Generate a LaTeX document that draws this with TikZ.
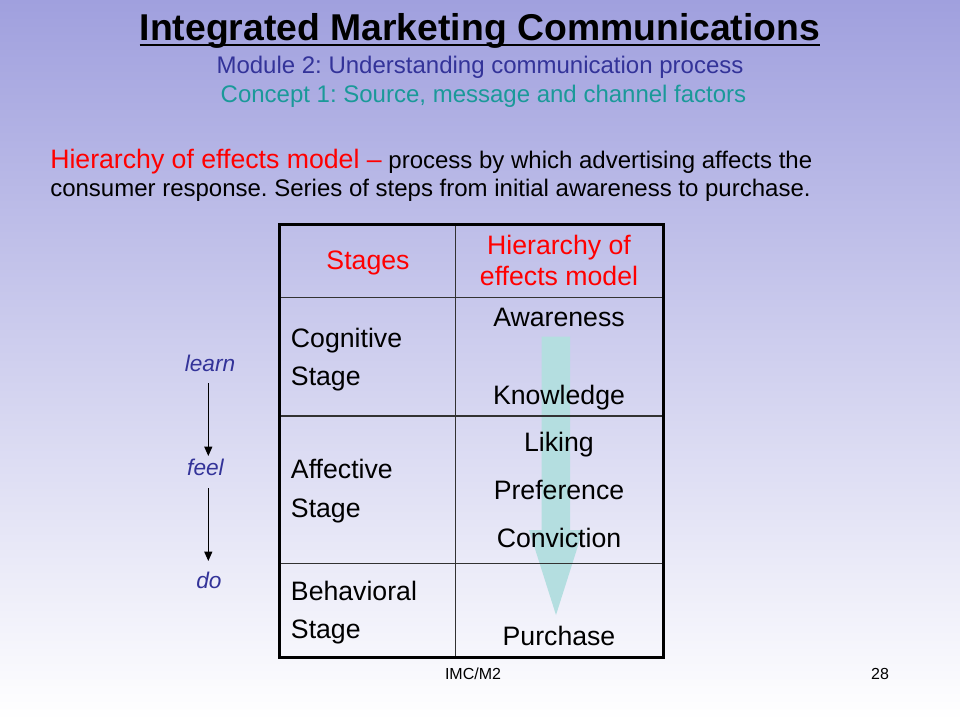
\documentclass[tikz,border=0pt]{standalone}
\usepackage{fontspec}
\setmainfont{Liberation Sans}
\usetikzlibrary{arrows.meta}
\definecolor{bgtop}{RGB}{160,160,222}
\definecolor{modblue}{RGB}{51,51,153}
\definecolor{tealtxt}{RGB}{26,153,153}
\definecolor{hred}{RGB}{255,0,0}
\definecolor{arrowcyan}{RGB}{180,222,224}
\definecolor{gridgray}{RGB}{50,50,50}
\frenchspacing
\begin{document}
\begin{tikzpicture}[x=0.75pt,y=-0.75pt,
  txt/.style={inner sep=0pt, anchor=base},
  cell/.style={txt, font=\fontsize{20}{24}\selectfont},
  lcell/.style={cell, anchor=base west},
  redcell/.style={cell, text=hred},
  flow/.style={txt, font=\fontsize{17}{20}\selectfont\itshape, text=modblue},
  smallarr/.style={-{Triangle[length=7pt,width=6pt]}, line width=0.8pt},
  foot/.style={txt, font=\fontsize{12}{14}\selectfont}]
\shade[top color=bgtop,bottom color=white] (0,0) rectangle (960,720);
\useasboundingbox (0,0) rectangle (960,720);

% Title block
\node[txt, font=\fontsize{28}{34}\selectfont\bfseries] (title) at (480,41) {Integrated Marketing Communications};
\draw[line width=2.2pt] ([yshift=-3pt]title.base west) -- ([yshift=-3pt]title.base east);
\node[txt, font=\fontsize{18}{22}\selectfont, text=modblue] (module) at (480,74) {Module 2: Understanding communication process};
\node[txt, font=\fontsize{18}{22}\selectfont, text=tealtxt] (concept) at (483.5,103) {Concept 1: Source, message and channel factors};

% Definition
\node[txt, anchor=base west, font=\fontsize{18}{22}\selectfont] (def1) at (50,169) {{\color{hred}\fontsize{20}{24}\selectfont Hierarchy of effects model~–} process by which advertising affects the};
\node[txt, anchor=base west, font=\fontsize{18}{22}\selectfont] (def2) at (50,197) {consumer response. Series of steps from initial awareness to purchase.};

% Big arrow behind table text
\fill[arrowcyan] (541.7,336.7) -- (570,336.7) -- (570,530) -- (583,530) -- (556,615) -- (529,530) -- (541.7,530) -- cycle;

% Table grid
\draw[gridgray, line width=1pt] (455.7,224.3) -- (455.7,657.7);
\draw[gridgray, line width=1pt] (279.3,297.3) -- (663.3,297.3);
\draw[gridgray, line width=1pt] (279.3,416) -- (663.3,416);
\draw[gridgray, line width=1pt] (279.3,563.3) -- (663.3,563.3);
\draw[line width=2.2pt] (279.3,224.3) rectangle (663.3,657.7);

% Table header
\node[redcell] (stages) at (368,270) {Stages};
\node[redcell] (hier1) at (559,255) {Hierarchy of};
\node[redcell] (hier2) at (559,286) {effects model};

% Left column
\node[lcell] (cog1) at (290.7,347) {Cognitive};
\node[lcell] (cog2) at (290.7,385) {Stage};
\node[lcell] (aff1) at (290.7,478) {Affective};
\node[lcell] (aff2) at (290.7,517) {Stage};
\node[lcell] (beh1) at (290.7,600) {Behavioral};
\node[lcell] (beh2) at (290.7,638) {Stage};

% Right column
\node[cell] (aware) at (559,326.7) {Awareness};
\node[cell] (know) at (559,404) {Knowledge};
\node[cell] (like) at (559,451) {Liking};
\node[cell] (pref) at (559,499) {Preference};
\node[cell] (conv) at (559,547) {Conviction};
\node[cell] (purch) at (559,645) {Purchase};

% learn / feel / do
\node[flow] (learn) at (210,371.7) {learn};
\node[flow] (feel) at (205.5,475) {feel};
\node[flow] (do) at (209,588) {do};
\coordinate (ax1) at (208.3,383);
\coordinate (ax2) at (208.3,456);
\coordinate (ax3) at (208.3,488);
\coordinate (ax4) at (208.3,561);
\draw[smallarr] (ax1) -- (ax2);
\draw[smallarr] (ax3) -- (ax4);

% Footer
\node[foot] (imc) at (473,679) {IMC/M2};
\node[foot] (page) at (880,679) {28};
\end{tikzpicture}
\end{document}
